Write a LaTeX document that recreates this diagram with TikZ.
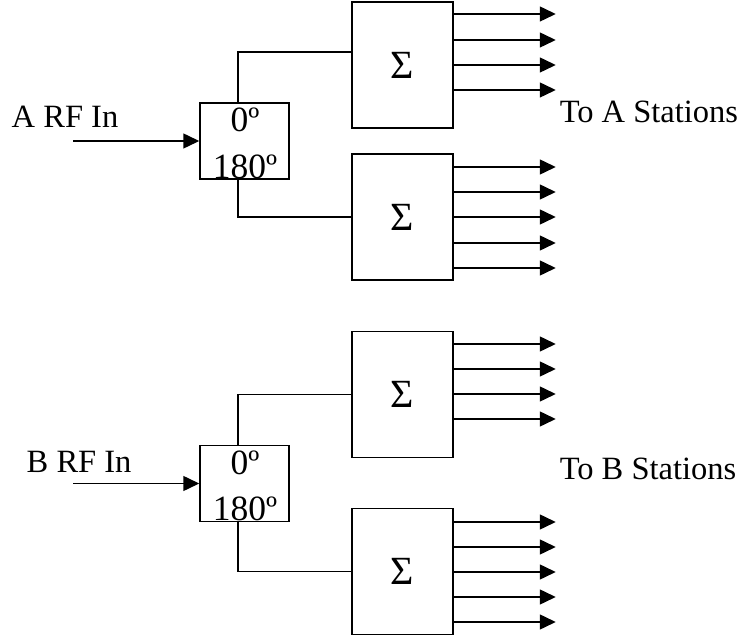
\documentclass[tikz,border=0pt]{standalone}
\usepackage{fontspec}
\setmainfont{Liberation Serif}
\usetikzlibrary{arrows.meta}
\begin{document}
\begin{tikzpicture}[x=1pt,y=1pt,
  line width=1.5pt,
  splitbox/.style={draw,minimum width=89pt,minimum height=76pt,inner sep=0pt},
  sumbox/.style={draw,minimum width=101pt,minimum height=126pt,inner sep=0pt,font=\fontsize{40}{44}\selectfont},
  lbl/.style={inner sep=0pt,anchor=base west,font=\fontsize{32.5}{38}\selectfont},
  deg/.style={inner sep=0pt,anchor=base,font=\fontsize{35.5}{40}\selectfont},
  arr/.style={-{Triangle[length=16pt,width=15pt]}}]
\useasboundingbox[fill=white] (0,0) rectangle (748,-636);

% ---- A group ----
\node[splitbox] (spA) at (244.5,-141) {};
\node[deg] (spA0) at (245,-132) {0º};
\node[deg] (spA180) at (245,-178.5) {180º};
\node[sumbox] (sumA1) at (402.5,-65) {Σ};
\node[sumbox] (sumA2) at (402.5,-217) {Σ};
\node[lbl] (inA) at (11,-128) {A RF In};
\node[lbl] (toA) at (559,-123) {To A Stations};
\coordinate (srcA) at (73,-141);
\draw[arr] (srcA) -- (spA.west);
\draw ([xshift=-6.5pt]spA.north) |- ([yshift=13pt]sumA1.west);
\draw ([xshift=-6.5pt]spA.south) |- (sumA2.west);
\foreach \y in {14,40,65,90}
  \draw[arr] (sumA1.east |- {(0,-\y)}) -- ++(102,0);
\foreach \y in {167,192,217,243,268}
  \draw[arr] (sumA2.east |- {(0,-\y)}) -- ++(102,0);

% ---- B group ----
\node[splitbox] (spB) at (244.5,-483.5) {};
\node[deg] (spB0) at (245,-474.5) {0º};
\node[deg] (spB180) at (245,-521) {180º};
\node[sumbox] (sumB1) at (402.5,-394.5) {Σ};
\node[sumbox] (sumB2) at (402.5,-571.5) {Σ};
\node[lbl] (inB) at (26,-473) {B RF In};
\node[lbl] (toB) at (559,-480) {To B Stations};
\coordinate (srcB) at (73,-483.5);
\draw[arr] (srcB) -- (spB.west);
\draw ([xshift=-6.5pt]spB.north) |- (sumB1.west);
\draw ([xshift=-6.5pt]spB.south) |- (sumB2.west);
\foreach \y in {344,369,394,419}
  \draw[arr] (sumB1.east |- {(0,-\y)}) -- ++(102,0);
\foreach \y in {522,547,572,597,622}
  \draw[arr] (sumB2.east |- {(0,-\y)}) -- ++(102,0);
\end{tikzpicture}
\end{document}
